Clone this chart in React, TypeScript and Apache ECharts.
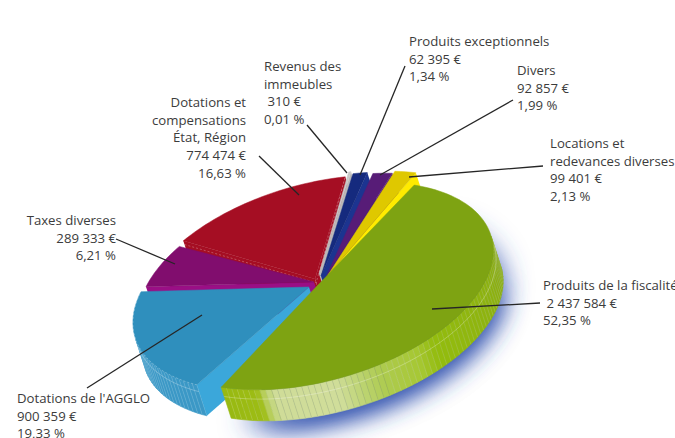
import React, { useEffect, useRef } from "react";
import * as echarts from "echarts";

// ---- data (clockwise from the green slice) ----
const categories = [
  "Produits de la fiscalité",
  "Dotations de l'AGGLO",
  "Taxes diverses",
  "Dotations et compensations État, Région",
  "Revenus des immeubles",
  "Produits exceptionnels",
  "Divers",
  "Locations et redevances diverses",
];
const amounts = [2437584, 900359, 289333, 774474, 310, 62395, 92857, 99401];
const percents = [52.35, 19.33, 6.21, 16.63, 0.01, 1.34, 1.99, 2.13];

const labelTexts = [
  "Produits de la fiscalité\n 2 437 584 €\n52,35 %",
  "Dotations de l'AGGLO\n900 359 €\n19,33 %",
  "Taxes diverses\n289 333 €\n6,21 %",
  "Dotations et\ncompensations\nÉtat, Région\n774 474 €\n16,63 %",
  "Revenus des\nimmeubles\n 310 €\n0,01 %",
  "Produits exceptionnels\n62 395 €\n1,34 %",
  "Divers\n92 857 €\n1,99 %",
  "Locations et\nredevances diverses\n99 401 €\n2,13 %",
];

// ---- styling / layout ----
const topColors = ["#7ea312", "#2f8fbd", "#810d6e", "#a50e23", "#c9c9c9", "#152a7e", "#571c77", "#dfc800"];
const faceColors = ["#8fb30e", "#3ba7da", "#9a0f85", "#a50e23", "#b9b9b9", "#1c3490", "#4d1a78", "#ffeb00"];
const rimColors = ["", "#3b98c6", "#8a0f78", "#950c20", "#bbbbbb", "#152a7e", "#571c77", "#d8c000"];
const centers = [
  [317, 286], [309, 287], [314, 282], [315, 279], [319, 274], [321, 276], [326, 277], [328, 275],
];
const pads = [
  [3.6, 3.6], [3, -2], [2, -2.5], [4, -3], [2.8, 0], [0, 0], [0.2, 0.2], [0, 0],
];
const drawOrder = [3, 2, 4, 5, 6, 7, 1, 0];
const labelPos: { x: number; y: number; align: string }[] = [
  { x: 543, y: 276, align: "left" },
  { x: 17, y: 389, align: "left" },
  { x: 116, y: 211, align: "right" },
  { x: 246, y: 93, align: "right" },
  { x: 264, y: 57, align: "left" },
  { x: 409, y: 32, align: "left" },
  { x: 517, y: 61, align: "left" },
  { x: 550, y: 134, align: "left" },
];
const leaders = [
  [540, 303, 432, 309],
  [87, 388, 202, 315],
  [116, 239, 175, 264],
  [259, 156, 299, 195],
  [307, 125, 347, 173],
  [405, 66, 360, 175],
  [513, 100, 380, 175],
  [543, 166, 409, 177],
];

const E = [97, -101];
const W = [147, 24];
const D = [10, 31];
const START = -3.5;
const GREEN_RIM: [number, string][] = [
  [-5, "#7b9a12"], [30, "#7f9f14"], [70, "#8cb010"], [105, "#93bc0e"], [112, "#a6c732"],
  [125, "#aecb50"], [132, "#bcd370"], [140, "#d0dd9a"], [160, "#cfdc98"], [163, "#bdd26c"],
  [166, "#9dbd14"], [190, "#93b510"],
];

const rad = (d: number) => (d * Math.PI) / 180;
const pt = (c: number[], s: number) => [
  c[0] + E[0] * Math.cos(rad(s)) + W[0] * Math.sin(rad(s)),
  c[1] + E[1] * Math.cos(rad(s)) + W[1] * Math.sin(rad(s)),
];
const down = (p: number[], k = 1) => [p[0] + D[0] * k, p[1] + D[1] * k];
const faces = (a: number[], b: number[]) => (b[1] - a[1]) * D[0] - (b[0] - a[0]) * D[1] > 0;

function hex(c: string) {
  return [1, 3, 5].map((i) => parseInt(c.slice(i, i + 2), 16));
}
function rimColor(s: number) {
  for (let i = 0; i < GREEN_RIM.length - 1; i++) {
    const [a, ca] = GREEN_RIM[i];
    const [b, cb] = GREEN_RIM[i + 1];
    if (s <= b) {
      const k = Math.max(0, (s - a) / (b - a));
      const A = hex(ca);
      const B = hex(cb);
      return `rgb(${A.map((v, j) => Math.round(v + (B[j] - v) * k)).join(",")})`;
    }
  }
  return GREEN_RIM[GREEN_RIM.length - 1][1];
}

// angular extents from the values; the tiniest slice gets a visible floor
const MIN_SHARE = 1;
const shares = percents.map((p) => Math.max(p, MIN_SHARE));
const total = shares.reduce((a, b) => a + b, 0);
const ranges: [number, number][] = [];
{
  let cur = START;
  shares.forEach((v) => {
    const next = cur + (v / total) * 360;
    ranges.push([cur, next]);
    cur = next;
  });
}

function arc(c: number[], a: number, b: number, step: number) {
  const out: number[][] = [];
  const n = Math.max(1, Math.ceil((b - a) / step));
  for (let i = 0; i <= n; i++) out.push(pt(c, a + ((b - a) * i) / n));
  return out;
}

function renderSlice(params: any) {
  const i = drawOrder[params.dataIndex];
  const c = centers[i];
  const [a0, b0] = ranges[i];
  const a = a0 + pads[i][0];
  const b = b0 - pads[i][1];
  const children: any[] = [];
  const edge = arc(c, a, b, 2);
  const visible: number[][] = [];
  for (let k = 0; k < edge.length - 1; k++) {
    const p = edge[k];
    const q = edge[k + 1];
    if (!faces(p, q)) continue;
    if (!visible.length) visible.push(p);
    visible.push(q);
    const s = a + ((b - a) * k) / (edge.length - 1);
    const fill = i === 0 ? rimColor(s) : rimColors[i];
    const pale = i === 0 && s > 125 && s < 163;
    children.push({
      type: "polygon",
      shape: { points: [p, q, down(q), down(p)] },
      style: { fill, stroke: fill, lineWidth: 0.6 },
    });
    children.push({
      type: "line",
      shape: { x1: p[0], y1: p[1], x2: down(p)[0], y2: down(p)[1] },
      style: { stroke: pale ? "rgba(110,125,90,0.35)" : "rgba(255,255,255,0.28)", lineWidth: 0.5 },
    });
  }
  if (i <= 1 && visible.length) {
    children.push({
      type: "polyline",
      shape: { points: visible.map((p) => down(p, i === 0 ? 0.3 : 0.22)) },
      style: { stroke: "rgba(255,255,255,0.45)", lineWidth: 0.6, fill: "none" },
    });
  }
  const first = edge[0];
  const last = edge[edge.length - 1];
  if (faces(c, first)) {
    children.push({
      type: "polygon",
      shape: { points: [c, first, down(first), down(c)] },
      style: { fill: faceColors[i] },
    });
  }
  if (faces(last, c)) {
    children.push({
      type: "polygon",
      shape: { points: [last, c, down(c), down(last)] },
      style: { fill: faceColors[i] },
    });
  }
  children.push({
    type: "polygon",
    shape: { points: [c, ...edge] },
    style: { fill: topColors[i], stroke: topColors[i], lineWidth: 0.5 },
  });
  if (i === 1) {
    children.push({
      type: "polyline",
      shape: { points: edge },
      style: { stroke: "rgba(255,255,255,0.45)", lineWidth: 0.6, lineDash: [2, 2], fill: "none" },
    });
  }
  if (i === 3) {
    children.push({
      type: "polyline",
      shape: { points: [down(first, 0.12), down(c, 0.12), last] },
      style: { stroke: "rgba(255,255,255,0.45)", lineWidth: 0.6, lineDash: [2, 2], fill: "none" },
    });
  }
  return { type: "group", children };
}

function renderShadow() {
  const [a, b] = ranges[0];
  const c = [centers[0][0] + D[0] * 0.7, centers[0][1] + D[1] * 0.7];
  const layer = (from: number, to: number, blur: number, dx: number, dy: number) => ({
    type: "polygon",
    shape: { points: arc(c, from, to, 3) },
    style: {
      fill: "#2a4aa8",
      shadowColor: "#3454b0",
      shadowBlur: blur,
      shadowOffsetX: dx,
      shadowOffsetY: dy,
    },
  });
  return {
    type: "group",
    children: [layer(a + 14, b - 8, 28, 3, 13), layer(a + 60, b - 14, 26, 2, 17)],
  };
}

export default function App() {
  const ref = useRef<HTMLDivElement>(null);
  useEffect(() => {
    document.body.style.margin = "0";
    const chart = echarts.init(ref.current!, undefined, { renderer: "svg" });
    const graphic: any[] = [];
    leaders.forEach((l) =>
      graphic.push({
        type: "line",
        z: 50,
        shape: { x1: l[0], y1: l[1], x2: l[2], y2: l[3] },
        style: { stroke: "#262626", lineWidth: 1.3 },
      })
    );
    labelTexts.forEach((t, i) =>
      graphic.push({
        type: "text",
        z: 51,
        x: labelPos[i].x,
        y: labelPos[i].y,
        style: {
          text: t,
          fontFamily: "Open Sans",
          fontSize: 13.2,
          lineHeight: 17.7,
          fill: "#3c3c3c",
          align: labelPos[i].align,
        },
      })
    );
    chart.setOption({
      animation: false,
      backgroundColor: "#ffffff",
      tooltip: { show: false },
      graphic,
      series: [
        {
          type: "custom",
          coordinateSystem: "none",
          silent: true,
          renderItem: renderShadow,
          data: [amounts[0]],
        },
        {
          type: "custom",
          coordinateSystem: "none",
          silent: true,
          renderItem: renderSlice,
          data: drawOrder.map((i) => ({ name: categories[i], value: amounts[i] })),
        },
      ],
    });
    return () => chart.dispose();
  }, []);
  return <div ref={ref} style={{ width: 675, height: 438 }} />;
}
